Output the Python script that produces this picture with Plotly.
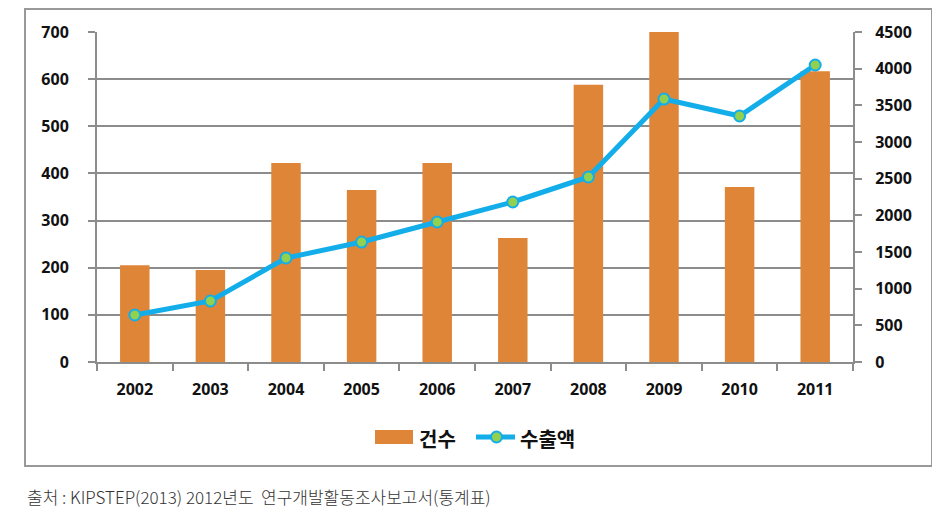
import plotly.graph_objects as go

years = ["2002", "2003", "2004", "2005", "2006", "2007", "2008", "2009", "2010", "2011"]
counts = [205, 195, 422, 365, 422, 263, 588, 700, 371, 617]          # 건수 (left axis)
exports = [641, 832, 1418, 1636, 1909, 2182, 2523, 3586, 3355, 4050]  # 수출액 (right axis)
left_ticks = [0, 100, 200, 300, 400, 500, 600, 700]
right_ticks = [0, 500, 1000, 1500, 2000, 2500, 3000, 3500, 4000, 4500]

GRAY = "#8c8c8c"
BAR = "#DF8538"
LINE = "#13AEEA"
DOT = "#92D050"
TICKFONT = dict(family="Open Sans, Lato, sans-serif", size=16, color="#111111", weight="bold")

fig = go.Figure()
fig.add_trace(go.Bar(
    x=years, y=counts, name="건수", marker=dict(color=BAR, line=dict(width=0)),
    width=0.39, yaxis="y", showlegend=False,
))
fig.add_trace(go.Scatter(
    x=years, y=exports, name="수출액", mode="lines+markers", yaxis="y2", showlegend=False,
    line=dict(color=LINE, width=5),
    marker=dict(size=11, color=DOT, line=dict(color=LINE, width=2)),
))

# page body has an 8px margin; figure is sized to fit the window
OFF = 8
W, H = 940 - 2 * OFF, 520 - 2 * OFF
PX0, PX1, PY0, PY1 = 97, 853, 32, 362  # plot area in screen pixels
L, R, T, B = PX0 - OFF, W - (PX1 - OFF), PY0 - OFF, H - (PY1 - OFF)

def px(x):
    return (x - PX0) / (PX1 - PX0)

def py(y):
    return (PY1 - y) / (PY1 - PY0)

legend_font = dict(family="Noto Sans CJK KR", size=20, color="#111111", weight="bold")

fig.update_layout(
    width=W, height=H,
    margin=dict(l=L, r=R, t=T, b=B),
    paper_bgcolor="white", plot_bgcolor="white",
    showlegend=False,
    xaxis=dict(
        type="category", range=[-0.5, len(years) - 0.5],
        showgrid=False, showline=True, linecolor=GRAY, linewidth=2,
        ticks="outside", tickcolor=GRAY, tickwidth=2, ticklen=7, ticklabelstandoff=12,
        tickson="boundaries", tickfont=TICKFONT, zeroline=False, automargin=False,
    ),
    yaxis=dict(
        range=[0, 700], tickvals=left_ticks, showgrid=True, gridcolor=GRAY, gridwidth=1.5,
        showline=True, linecolor=GRAY, linewidth=2, ticks="outside", tickcolor=GRAY,
        tickwidth=2, ticklen=7, ticklabelstandoff=16, tickfont=TICKFONT, zeroline=False,
        automargin=False,
    ),
    yaxis2=dict(
        range=[0, 4500], tickvals=right_ticks, overlaying="y", side="right", showgrid=False,
        showline=True, linecolor=GRAY, linewidth=2, ticks="outside", tickcolor=GRAY,
        tickwidth=2, ticklen=7, ticklabelstandoff=10, tickfont=TICKFONT, zeroline=False,
        automargin=False,
    ),
    shapes=[
        dict(type="rect", xref="paper", yref="paper",
             x0=px(25), x1=px(932), y0=py(466), y1=py(9),
             line=dict(color="#999999", width=2), layer="below"),
        # legend: bar swatch
        dict(type="rect", xref="paper", yref="paper",
             x0=px(375), x1=px(413), y0=py(444), y1=py(430),
             fillcolor=BAR, line=dict(width=0)),
        # legend: line swatch
        dict(type="line", xref="paper", yref="paper",
             x0=px(476), x1=px(515), y0=py(437), y1=py(437),
             line=dict(color=LINE, width=5)),
        dict(type="circle", xref="paper", yref="paper",
             x0=px(491), x1=px(502), y0=py(442.5), y1=py(431.5),
             fillcolor=DOT, line=dict(color=LINE, width=2)),
    ],
    annotations=[
        dict(text="건수", xref="paper", yref="paper", x=px(417), y=py(438),
             xanchor="left", yanchor="middle", showarrow=False, font=legend_font),
        dict(text="수출액", xref="paper", yref="paper", x=px(518), y=py(438),
             xanchor="left", yanchor="middle", showarrow=False, font=legend_font),
        dict(text="출처 : KIPSTEP(2013) 2012년도  연구개발활동조사보고서(통계표)",
             xref="paper", yref="paper", x=px(25), y=py(496), xanchor="left", yanchor="middle",
             showarrow=False,
             font=dict(family="Noto Sans CJK KR", size=17, color="#333333", weight=300)),
    ],
)

fig.write_html("out.html")
